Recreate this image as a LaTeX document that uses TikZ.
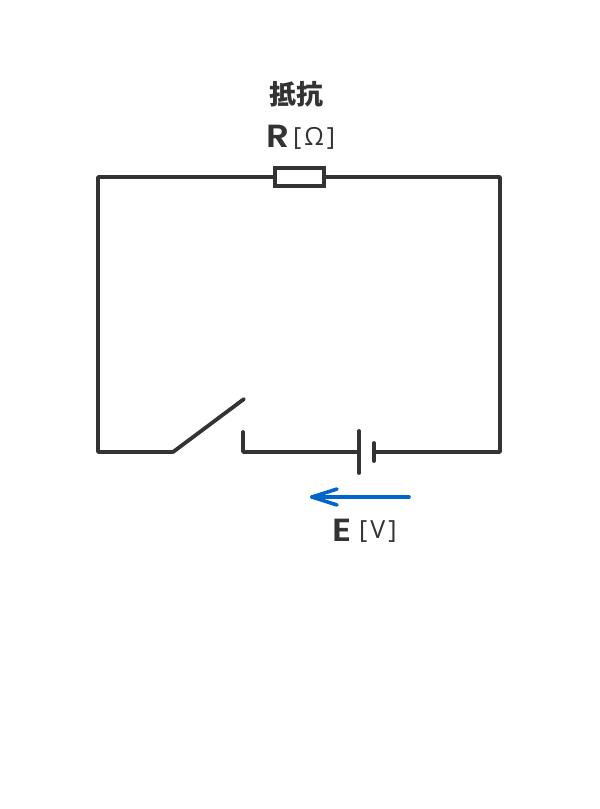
\documentclass[tikz,border=0pt]{standalone}
\usepackage{fontspec}
\setmainfont{Poppins}
\newfontfamily\symfont[FakeStretch=1.12]{Poppins SemiBold}
\newfontfamily\cjk{Noto Sans CJK JP}
\newfontfamily\unitfont{Open Sans}
\usetikzlibrary{calc,positioning,arrows}
\definecolor{wirecolor}{HTML}{333333}
\definecolor{arrowcolor}{HTML}{0066CC}
\newcommand{\unitgap}{\kern 3pt}
\tikzset{
  wire/.style     = {draw=wirecolor, line width=3.8pt, line cap=round, line join=round},
  resistor/.style = {shape=rectangle, draw=wirecolor, line width=3.8pt, fill=white,
                     minimum width=49.5pt, minimum height=18pt, inner sep=0pt},
  label/.style    = {text=wirecolor, inner sep=0pt, anchor=base},
  symlabel/.style = {label, font=\symfont\fontsize{32}{32}\selectfont, anchor=base west},
  unitlabel/.style= {label, font=\unitfont\fontsize{25}{25}\selectfont, anchor=base west}
}
\begin{document}
\begin{tikzpicture}[x=1pt,y=-1pt]
\useasboundingbox (0,0) rectangle (600,809);
% corners of the loop
\coordinate (tl) at (98,177);
\coordinate (tr) at (500,177);
\coordinate (bl) at (98,452);
\coordinate (br) at (500,452);
% switch
\coordinate (hinge) at (173,452);
\coordinate (blade) at (244,399);
\coordinate (contacttop) at (243,432);
\coordinate (contact) at (243,452);
% battery
\coordinate (platelong) at (359,452);
\coordinate (plateshort) at (374,452);
\node [resistor] (res) at (299.5,177) {};
\draw [wire] (res.west) -- (tl) -- (bl) -- (hinge) -- (blade);
\draw [wire] (contacttop) -- (contact) -- (platelong);
\draw [wire] ($(platelong)+(0,-21)$) -- ($(platelong)+(0,21)$);
\draw [wire] ($(plateshort)+(0,-9)$) -- ($(plateshort)+(0,9)$);
\draw [wire] (plateshort) -- (br) -- (tr) -- (res.east);
% emf arrow
\coordinate (arrowstart) at (409,497);
\coordinate (arrowend) at (312,497);
\draw [draw=arrowcolor, line width=3.6pt, line cap=round] (arrowstart) -- (arrowend);
\draw [draw=arrowcolor, line width=3.6pt, line cap=round, line join=round]
   ($(arrowend)+(25,-8)$) -- (arrowend) -- ($(arrowend)+(25,8)$);
% labels
\node [label, font=\cjk\bfseries\fontsize{27}{27}\selectfont] (name) at (296,104) {抵抗};
\node [symlabel] (rsym) at (266,147) {R};
\node [unitlabel] (runit) at (293,145) {[\unitgap Ω\unitgap]};
\node [symlabel] (esym) at (332,541) {E};
\node [unitlabel] (eunit) at (359,538) {[\unitgap V\unitgap]};
\end{tikzpicture}
\end{document}
